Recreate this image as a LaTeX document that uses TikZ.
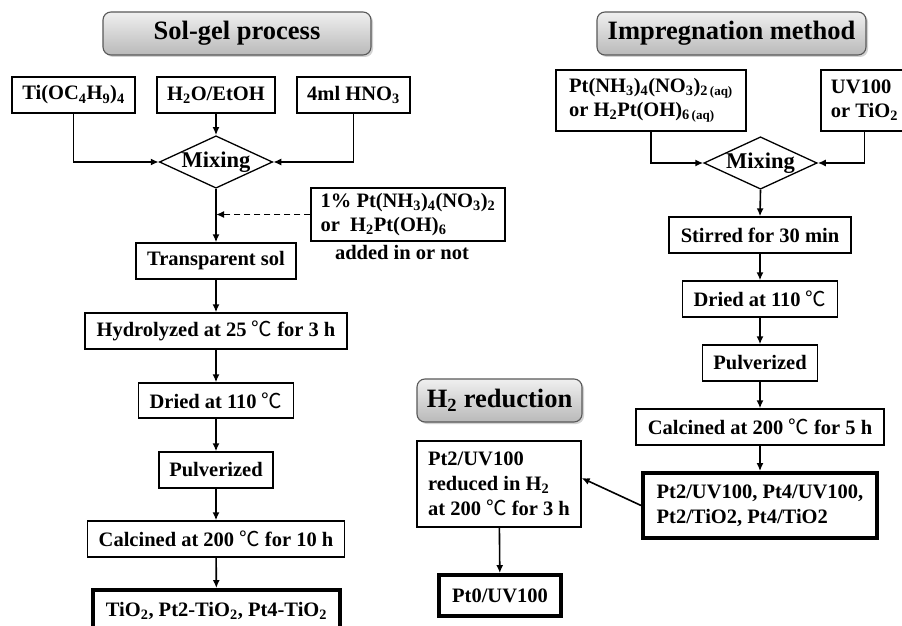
\documentclass[tikz,border=0pt]{standalone}
\usepackage{fontspec}
\setmainfont{Liberation Serif}
\newfontfamily\cjk{Noto Sans CJK SC}
\usetikzlibrary{shapes.geometric,shadows,arrows.meta,calc}
\newcommand{\dg}{{\normalfont\cjk ℃}}
\newcommand{\aqsub}[1]{\textsubscript{#1\,{\fontsize{13}{13}\selectfont (aq)}}}
\begin{document}
\begin{tikzpicture}[x=1pt,y=-1pt,
  every node/.style={font=\bfseries\fontsize{20.5}{24}\selectfont, inner sep=0pt},
  box/.style={draw, line width=1.3pt, rectangle},
  bold/.style={draw, line width=3.8pt, rectangle},
  title/.style={draw=gray!70!black, line width=1.1pt, rounded corners=8pt, top color=gray!12, bottom color=gray!55,
     drop shadow={opacity=0.35, shadow xshift=2pt, shadow yshift=-2pt},
     font=\bfseries\fontsize{26.5}{30}\selectfont},
  mix/.style={draw, line width=1.3pt, diamond, aspect=2.16, font=\bfseries\fontsize{22.5}{24}\selectfont},
  flow/.style={line width=1.6pt, -{Latex[length=8pt,width=7pt]}},
  dflow/.style={line width=1.6pt, dashed, dash pattern=on 6pt off 4pt, -{Latex[length=8pt,width=7pt]}}
]
\useasboundingbox (0,0) rectangle (902,626);
\fill[white] (0,0) rectangle (902,626);

% ---------- Sol-gel ----------
\node[title, minimum width=268, minimum height=43] (solgel) at (237,33.5) {Sol-gel process};
\node[box, minimum width=123, minimum height=36] (ti) at (73.5,95) {Ti(OC\textsubscript{4}H\textsubscript{9})\textsubscript{4}};
\node[box, minimum width=118, minimum height=36] (h2o) at (216,95) {H\textsubscript{2}O/EtOH};
\node[box, minimum width=113, minimum height=36] (hno) at (353.5,95) {4ml HNO\textsubscript{3}};
\node[mix, minimum width=108, minimum height=50] (mix1) at (216,162) {Mixing};
\node[box, minimum width=194, minimum height=53, align=left] (ptadd) at (408,214.5)
  {1\% Pt(NH\textsubscript{3})\textsubscript{4}(NO\textsubscript{3})\textsubscript{2}\\or\ \ H\textsubscript{2}Pt(OH)\textsubscript{6}};
\node (addlab) at (402,252) {added in or not};
\node[box, minimum width=160, minimum height=36] (sol) at (216,261) {Transparent sol};
\node[box, minimum width=262, minimum height=36] (hyd) at (216,331) {Hydrolyzed at 25 \dg\ for 3 h};
\node[box, minimum width=155, minimum height=35] (dry1) at (216,400.5) {Dried at 110 \dg};
\node[box, minimum width=114, minimum height=36] (pul1) at (216,470) {Pulverized};
\node[box, minimum width=257, minimum height=36] (cal1) at (216,539) {Calcined at 200 \dg\ for 10 h};
\node[bold, minimum width=247, minimum height=42] (fin1) at (216.5,611) {TiO\textsubscript{2}, Pt2-TiO\textsubscript{2}, Pt4-TiO\textsubscript{2}};

\draw[flow] (ti.south) |- (mix1.west);
\draw[flow] (hno.south) |- (mix1.east);
\draw[flow] (h2o) -- (mix1.north);
\coordinate (dj) at (ptadd.west -| mix1.south);
\draw[dflow] (ptadd.west) -- (dj);
\draw[flow] (mix1.south) -- (sol.north);
\draw[flow] (sol) -- (hyd);
\draw[flow] (hyd) -- (dry1);
\draw[flow] (dry1) -- (pul1);
\draw[flow] (pul1) -- (cal1);
\draw[flow] (cal1) -- (fin1);

% ---------- Impregnation ----------
\node[title, minimum width=269, minimum height=43] (imp) at (731.5,33.5) {Impregnation method};
\node[box, minimum width=190, minimum height=61, align=left] (ptsrc) at (651,100.5)
  {Pt(NH\textsubscript{3})\textsubscript{4}(NO\textsubscript{3})\aqsub{2}\\or H\textsubscript{2}Pt(OH)\aqsub{6}};
\node[box, minimum width=87, minimum height=61, align=left] (uv) at (864.5,100.5) {UV100\\or TiO\textsubscript{2}};
\node[mix, minimum width=109, minimum height=50] (mix2) at (760.5,163) {Mixing};
\node[box, minimum width=182, minimum height=36] (stir) at (760,235) {Stirred for 30 min};
\node[box, minimum width=155, minimum height=36] (dry2) at (760,299) {Dried at 110 \dg};
\node[box, minimum width=115, minimum height=36] (pul2) at (760,363) {Pulverized};
\node[box, minimum width=248, minimum height=36] (cal2) at (760,427) {Calcined at 200 \dg\ for 5 h};
\node[bold, minimum width=234, minimum height=65, align=left, font=\bfseries\fontsize{20.5}{25}\selectfont] (fin2) at (760,505.5)
  {Pt2/UV100, Pt4/UV100,\\Pt2/TiO2, Pt4/TiO2};

\draw[flow] (ptsrc.south) |- (mix2.west);
\draw[flow] (uv.south) |- (mix2.east);
\draw[flow] (mix2.south) -- (stir.north);
\draw[flow] (stir) -- (dry2);
\draw[flow] (dry2) -- (pul2);
\draw[flow] (pul2) -- (cal2);
\draw[flow] (cal2) -- (fin2);

% ---------- H2 reduction ----------
\node[title, minimum width=165, minimum height=43] (h2r) at (499.5,400.5) {H\textsubscript{2} reduction};
\node[box, minimum width=164, minimum height=86, align=left, font=\bfseries\fontsize{20.5}{25}\selectfont] (red) at (499,484)
  {Pt2/UV100\\reduced in H\textsubscript{2}\\at 200 \dg\ for 3 h};
\node[bold, minimum width=122, minimum height=41] (pt0) at (500,595.5) {Pt0/UV100};

\draw[flow] (fin2.west) -- ($(red.east)+(0,-6)$);
\draw[flow] (red) -- (pt0);
\end{tikzpicture}
\end{document}
